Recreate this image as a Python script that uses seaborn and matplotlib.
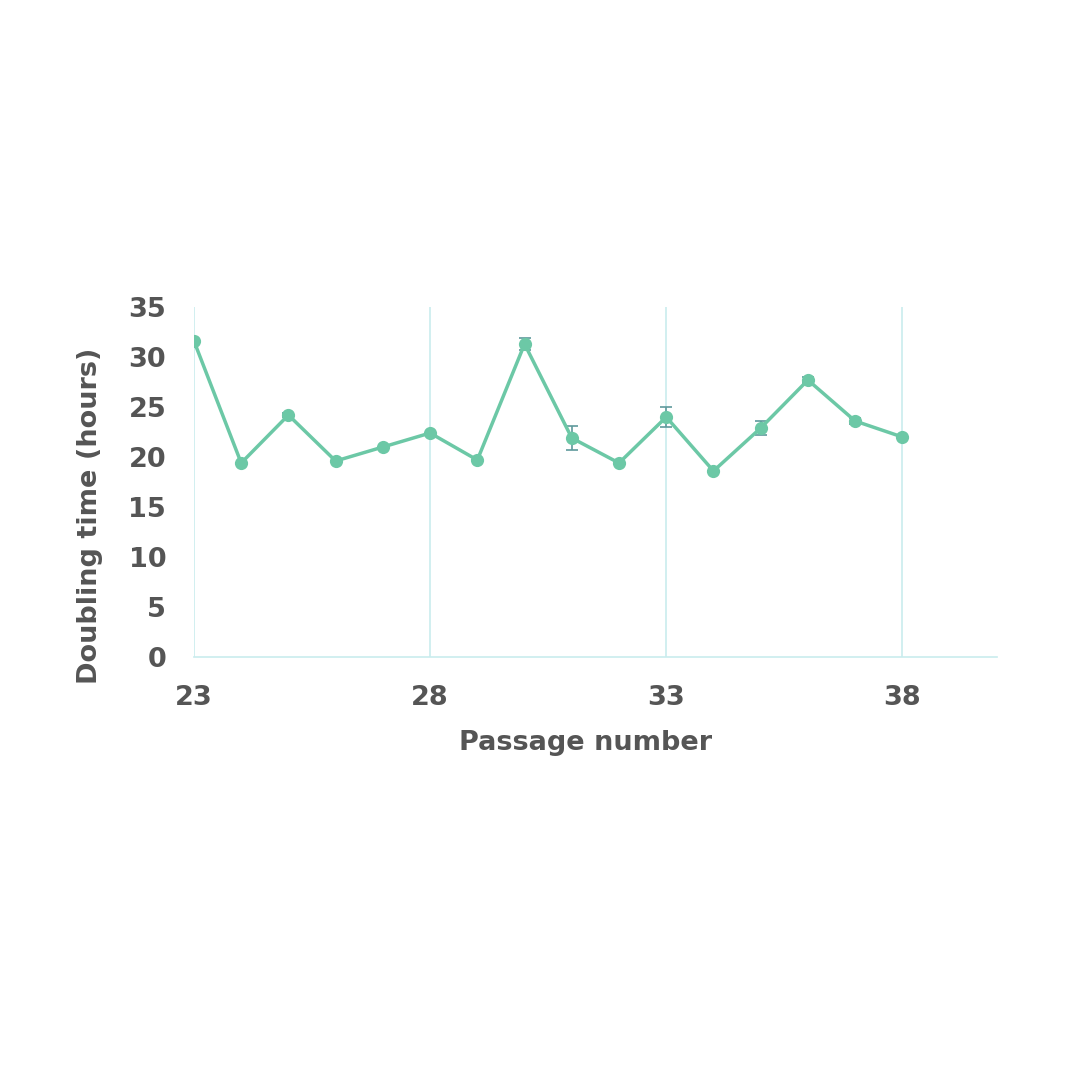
import matplotlib
matplotlib.use("Agg")
import matplotlib.pyplot as plt
import seaborn as sns
import pandas as pd

passage = [23, 24, 25, 26, 27, 28, 29, 30, 31, 32, 33, 34, 35, 36, 37, 38]
doubling = [31.6, 19.4, 24.2, 19.6, 21.0, 22.4, 19.7, 31.3, 21.9, 19.4, 24.0, 18.6, 22.9, 27.7, 23.6, 22.0]
err = [0.0, 0.0, 0.2, 0.0, 0.0, 0.0, 0.0, 0.6, 1.2, 0.0, 1.0, 0.0, 0.7, 0.3, 0.3, 0.0]
xticks = [23, 28, 33, 38]
yticks = [0, 5, 10, 15, 20, 25, 30, 35]

df = pd.DataFrame({"passage": passage, "doubling": doubling, "err": err})

sns.set_theme(style="white")
plt.rcParams['font.family'] = ['DejaVu Sans']

line_c = "#6cc8a6"
grid_c = "#c9ecee"
text_c = "#555555"

fig = plt.figure(figsize=(10.8, 10.8), dpi=100)
ax = fig.add_axes([0.1796, 0.3917, 0.923 - 0.1796, 0.7157 - 0.3917])

ax.errorbar(df["passage"], df["doubling"], yerr=df["err"], fmt="none",
            ecolor="#5f9a9c", elinewidth=1.2, capsize=4, capthick=1.2, zorder=2)
sns.lineplot(data=df, x="passage", y="doubling", ax=ax, color=line_c,
             linewidth=2.5, marker="o", markersize=9.5, markeredgewidth=0, zorder=3)

ax.set_xlim(23, 40)
ax.set_ylim(0, 35)
ax.set_xticks(xticks)
ax.set_yticks(yticks)
for xv in xticks:
    ax.axvline(xv, color=grid_c, linewidth=1.2, zorder=1)

for s in ["top", "right", "left"]:
    ax.spines[s].set_visible(False)
ax.spines["bottom"].set_color(grid_c)
ax.spines["bottom"].set_linewidth(1.2)
ax.tick_params(axis="both", length=0, labelsize=19.5, labelcolor=text_c)
ax.tick_params(axis="x", pad=20)
ax.tick_params(axis="y", pad=20)
for lab in ax.get_xticklabels() + ax.get_yticklabels():
    lab.set_fontweight("bold")

ax.set_xlabel("Passage number", fontsize=19.5, fontweight="bold", color=text_c)
ax.set_ylabel("Doubling time (hours)", fontsize=19.5, fontweight="bold", color=text_c)
ax.xaxis.set_label_coords(0.488, -0.246)
ax.yaxis.set_label_coords(-0.1295, 0.403)
ax.xaxis.label.set_va("center")
ax.yaxis.label.set_va("center")

fig.savefig("out.png", dpi=100, facecolor="white")
